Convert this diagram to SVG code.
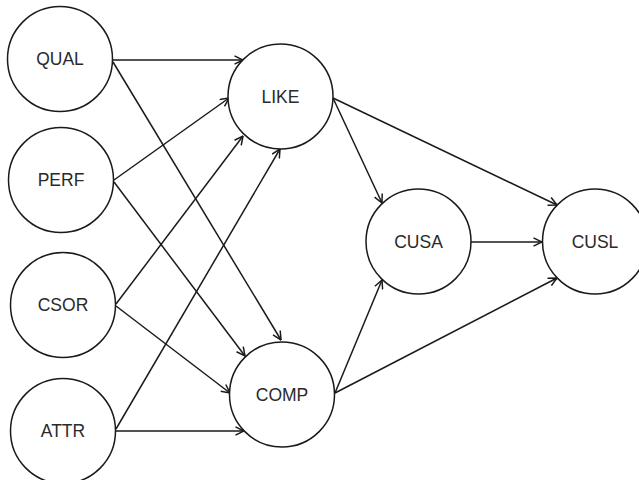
<svg xmlns="http://www.w3.org/2000/svg" width="639" height="480" viewBox="0 0 639 480">
<defs>
<marker id="arr" viewBox="0 0 10 10" refX="9.5" refY="5" markerWidth="10" markerHeight="10" markerUnits="userSpaceOnUse" orient="auto">
<path d="M1,0.8 L9.5,5 L1,9.2" fill="none" stroke="#1a1a1a" stroke-width="1.5"/>
</marker>
</defs>
<style>
.n circle{fill:#fff;stroke:#1a1a1a;stroke-width:1.5}
.n text{font-family:"Liberation Sans",Arial,sans-serif;font-size:17.5px;fill:#2a2a2a;text-anchor:middle;dominant-baseline:central}
#edges line{stroke:#1a1a1a;stroke-width:1.5;marker-end:url(#arr)}
</style>
<rect width="639" height="480" fill="#fff"/>
<g id="edges">
<line x1="113" y1="60" x2="243" y2="60"/>
<line x1="113" y1="62" x2="281" y2="340"/>
<line x1="114" y1="180" x2="229" y2="98"/>
<line x1="114" y1="182" x2="245" y2="356"/>
<line x1="116" y1="304" x2="243" y2="136"/>
<line x1="116" y1="306" x2="230" y2="393"/>
<line x1="116" y1="429" x2="280" y2="149"/>
<line x1="116" y1="431" x2="244" y2="431"/>
<line x1="333" y1="98" x2="382" y2="203"/>
<line x1="333" y1="98" x2="557" y2="205"/>
<line x1="335" y1="393" x2="382" y2="280"/>
<line x1="335" y1="393" x2="557" y2="278"/>
<line x1="471" y1="242" x2="542" y2="242"/>
</g>
<g id="QUAL" class="n"><circle cx="60" cy="59" r="52.5"/><text x="60" y="59">QUAL</text></g>
<g id="PERF" class="n"><circle cx="61" cy="180" r="52.5"/><text x="61" y="180">PERF</text></g>
<g id="CSOR" class="n"><circle cx="63" cy="305" r="52.5"/><text x="63" y="305">CSOR</text></g>
<g id="ATTR" class="n"><circle cx="63" cy="431" r="52.5"/><text x="63" y="431">ATTR</text></g>
<g id="LIKE" class="n"><circle cx="280.5" cy="96.5" r="52.5"/><text x="280.5" y="96.5">LIKE</text></g>
<g id="COMP" class="n"><circle cx="282" cy="394.5" r="52.5"/><text x="282" y="394.5">COMP</text></g>
<g id="CUSA" class="n"><circle cx="418.5" cy="241.5" r="52.5"/><text x="418.5" y="241.5">CUSA</text></g>
<g id="CUSL" class="n"><circle cx="595" cy="241.5" r="52.5"/><text x="595" y="241.5">CUSL</text></g>
</svg>
